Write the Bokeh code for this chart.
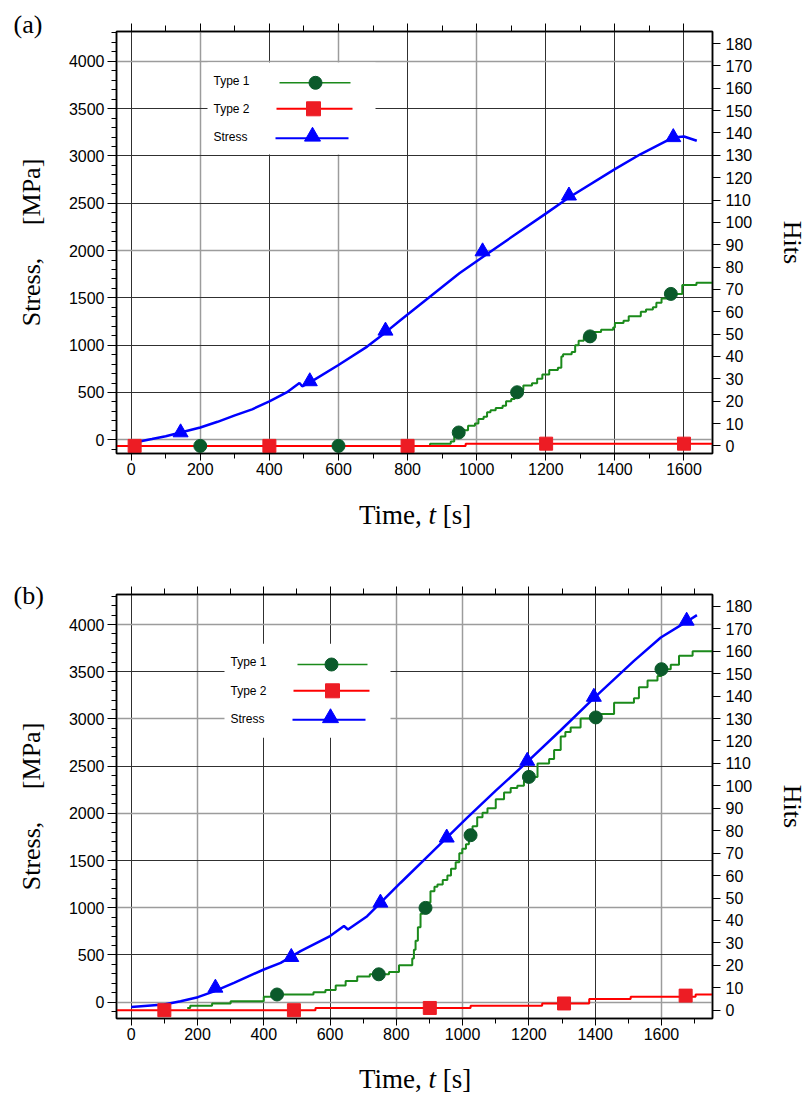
from bokeh.plotting import figure
from bokeh.models import (Range1d, LinearAxis, SingleIntervalTicker, FixedTicker,
                          Grid, Label, Title, CustomJSTickFormatter, Div)
from bokeh.layouts import column
from bokeh.embed import file_html
from bokeh.resources import INLINE

# ---------------- data: panel (a) ----------------
a_stress_t = [20, 60, 100, 143, 200, 250, 300, 350, 400, 450, 487, 495, 520, 600, 683, 736,
              780, 850, 900, 950, 1002, 1100, 1200, 1267, 1400, 1475, 1569, 1600, 1637]
a_stress_s = [-20, 8, 38, 77, 130, 190, 258, 322, 405, 500, 600, 565, 612, 790, 985, 1135,
              1265, 1470, 1615, 1760, 1893, 2140, 2390, 2560, 2860, 3020, 3195, 3205, 3160]
a_stress_mark_t = [143, 517, 736, 1017, 1267, 1569]
a_stress_mark_s = [77, 617, 1152, 1990, 2580, 3197]

a_type1_t = [-42, 865, 925, 935, 945, 960, 975, 995, 1005, 1020, 1030, 1040, 1055, 1075, 1085,
             1100, 1110, 1120, 1135, 1160, 1175, 1190, 1210, 1235, 1245, 1250, 1275, 1285, 1295,
             1310, 1335, 1360, 1395, 1400, 1425, 1440, 1475, 1490, 1510, 1520, 1535, 1555, 1595,
             1636, 1682]
a_type1_h = [0, 1, 2, 4, 6, 7, 9, 10, 12, 13, 15, 16, 17, 18, 20,
             21, 23, 25, 27, 28, 30, 32, 34, 35, 40, 41, 42, 45, 47,
             49, 51, 52, 53, 55, 56, 58, 60, 61, 62, 64, 66, 68, 72,
             73, 73]
a_type1_mark_t = [200, 600, 948, 1117, 1328, 1562]
a_type1_mark_h = [0, 0, 6, 24, 49, 68]

a_type2_t = [-42, 968, 1682]
a_type2_h = [0, 1, 1]
a_type2_mark_t = [10, 400, 800, 1201, 1600]
a_type2_mark_h = [0, 0, 0, 1, 1]

# ---------------- data: panel (b) ----------------
b_stress_t = [0, 99, 149, 201, 250, 310, 400, 451, 511, 600, 642, 654, 712, 813, 900, 1014,
              1100, 1195, 1296, 1396, 1517, 1598, 1676, 1707]
b_stress_s = [-50, -25, 10, 53, 115, 205, 346, 417, 540, 700, 806, 770, 911, 1265, 1563, 1954,
              2240, 2545, 2880, 3220, 3615, 3862, 4030, 4099]
b_stress_mark_t = [254, 483, 752, 952, 1195, 1396, 1676]
b_stress_mark_s = [152, 477, 1053, 1742, 2555, 3233, 4039]

b_type1_t = [169, 178, 244, 300, 400, 430, 550, 586, 617, 647, 682, 720, 778, 808, 848, 853,
             858, 865, 873, 880, 890, 903, 915, 924, 940, 954, 965, 979, 990, 999, 1010, 1019,
             1030, 1044, 1060, 1075, 1100, 1125, 1145, 1165, 1185, 1200, 1226, 1261, 1276, 1296,
             1310, 1326, 1356, 1415, 1457, 1517, 1532, 1558, 1588, 1600, 1628, 1653, 1694, 1754]
b_type1_h = [1, 2, 3, 4, 6, 7, 8, 9, 11, 13, 15, 16, 17, 20, 23, 27,
             31, 37, 43, 45, 48, 53, 55, 56, 58, 60, 63, 66, 70, 72, 74, 77,
             82, 86, 88, 90, 94, 97, 99, 100, 102, 104, 110, 112, 116, 122,
             124, 126, 130, 132, 137, 139, 144, 147, 149, 152, 154, 158, 160, 160]
b_type1_mark_t = [440, 747, 888, 1024, 1200, 1402, 1600]
b_type1_mark_h = [7, 16, 45.6, 78, 104, 130.5, 152]

b_type2_t = [-44, 556, 1024, 1240, 1382, 1507, 1703, 1754]
b_type2_h = [0, 1, 2, 3, 5, 6, 7, 7]
b_type2_mark_t = [100, 491, 901, 1306, 1673]
b_type2_mark_h = [0, 0, 1, 3, 6.5]

x_label_parts = ["Time,", "t", "[s]"]
y_label = "Stress,\u00a0\u00a0\u00a0\u00a0 [MPa]"
y2_label = "Hits"
legend_labels = ["Type 1", "Type 2", "Stress"]

# ---------------- style ----------------
SERIF = "Liberation Serif"
SANS = "Liberation Sans"
GREEN_LINE = "#1b8a1b"
GREEN_MARK = "#0b5a2b"
RED_LINE = "#ff0000"
RED_MARK = "#ed1c24"
BLUE = "#0000ff"
GRID_GRAY = "#9c9c9c"
GRID_DARK = "#303030"
FW = 596
LEFT = 116


def build(tag, tag_standoff, x_rng, y_rng, h_rng, fh, b_top, b_bot, gx_gray, gx_dark,
          gy_gray, gy_dark, leg, d):
    p = figure(frame_width=FW, frame_height=fh, title=None,
               x_range=Range1d(*x_rng), y_range=Range1d(*y_rng),
               output_backend="svg", toolbar_location=None,
               min_border_left=LEFT, min_border_right=60,
               min_border_top=b_top, min_border_bottom=b_bot,
               outline_line_color="black", outline_line_width=1.5,
               background_fill_color="white", border_fill_color="white")
    p.extra_y_ranges = {"hits": Range1d(*h_rng), "py": Range1d(fh, 0)}
    p.extra_x_ranges = {"px": Range1d(0, FW)}
    p.xgrid.grid_line_color = None
    p.ygrid.grid_line_color = None
    for dim, ticks, col, w in [(0, gx_gray, GRID_GRAY, 1.5), (0, gx_dark, GRID_DARK, 1),
                               (1, gy_gray, GRID_GRAY, 1.5), (1, gy_dark, GRID_DARK, 1)]:
        p.add_layout(Grid(dimension=dim, ticker=FixedTicker(ticks=ticks),
                          grid_line_color=col, grid_line_width=w))

    xa = p.xaxis[0]
    xa.ticker = SingleIntervalTicker(interval=200, num_minor_ticks=2)
    xa.major_tick_out, xa.major_tick_in = 7, 0
    xa.minor_tick_out, xa.minor_tick_in = 5, 0
    xa.major_label_text_font = SANS
    xa.major_label_text_font_size = "16px"
    xa.major_label_text_color = "black"
    xa.major_label_standoff = 2
    xa.axis_line_width = 1.5

    ya = p.yaxis[0]
    ya.ticker = SingleIntervalTicker(interval=500, num_minor_ticks=5)
    ya.major_tick_out, ya.major_tick_in = 9, 0
    ya.minor_tick_out, ya.minor_tick_in = 5, 0
    ya.major_label_text_font = SANS
    ya.major_label_text_font_size = "16px"
    ya.major_label_text_color = "black"
    ya.major_label_standoff = 3
    ya.axis_line_width = 1.5
    ya.axis_label = y_label
    ya.axis_label_text_font = SERIF
    ya.axis_label_text_font_size = "26px"
    ya.axis_label_text_font_style = "normal"
    ya.axis_label_text_color = "black"
    ya.axis_label_standoff = 20

    top = LinearAxis(ticker=SingleIntervalTicker(interval=200, num_minor_ticks=2),
                     formatter=CustomJSTickFormatter(code="return ''"),
                     major_tick_out=8, major_tick_in=0, minor_tick_out=6, minor_tick_in=0,
                     major_label_text_font_size="1px", major_label_standoff=0,
                     axis_line_width=1.5)
    p.add_layout(top, "above")

    right = LinearAxis(y_range_name="hits",
                       ticker=SingleIntervalTicker(interval=10, num_minor_ticks=0),
                       major_tick_out=8, major_tick_in=0, minor_tick_out=0, minor_tick_in=0,
                       minor_tick_line_color=None,
                       major_label_text_font=SANS, major_label_text_font_size="16px",
                       major_label_text_color="black", major_label_standoff=5,
                       axis_line_width=1.5,
                       axis_label=y2_label, axis_label_text_font=SERIF,
                       axis_label_text_font_size="26px", axis_label_text_font_style="normal",
                       axis_label_text_color="black", axis_label_standoff=23)
    p.add_layout(right, "right")

    # panel tag, placed as an outer title to the left of the frame
    p.add_layout(Title(text=tag, align="left", vertical_align="bottom", offset=13 - LEFT,
                       standoff=tag_standoff, text_font=SERIF, text_font_size="26px",
                       text_font_style="normal", text_color="black"), "above")

    # legend (text left, sample right) drawn in frame-pixel coordinates
    bx0, bx1, by0, by1 = leg["box"]
    p.quad(left=[bx0], right=[bx1], top=[by0], bottom=[by1], x_range_name="px",
           y_range_name="py", fill_color="white", line_color=None)
    samples = [(GREEN_LINE, 1.5, "circle", GREEN_MARK, 13),
               (RED_LINE, 2, "square", RED_MARK, 14),
               (BLUE, 2, "triangle", BLUE, 16)]
    for i, (lab, (lc, lw, mk, mc, ms)) in enumerate(zip(legend_labels, samples)):
        tx, ty = leg["text"][i]
        p.add_layout(Label(x=tx, y=ty, x_range_name="px", y_range_name="py", text=lab,
                           text_font=SANS, text_font_size="12px", text_color="black",
                           text_baseline="middle", text_align="left"))
        lx0, lx1, ly, mx, my = leg["sample"][i]
        p.line([lx0, lx1], [ly, ly], x_range_name="px", y_range_name="py",
               line_color=lc, line_width=lw)
        p.scatter([mx], [my], x_range_name="px", y_range_name="py", marker=mk,
                  size=ms, fill_color=mc, line_color=mc)

    # data
    p.step(d["t1"], d["h1"], mode="after", y_range_name="hits", line_color=GREEN_LINE,
           line_width=2)
    p.step(d["t2"], d["h2"], mode="after", y_range_name="hits", line_color=RED_LINE,
           line_width=2)
    p.line(d["st"], d["ss"], line_color=BLUE, line_width=2.5)
    p.scatter(d["t1m"], d["h1m"], y_range_name="hits", marker="circle", size=13,
              fill_color=GREEN_MARK, line_color=GREEN_MARK)
    p.scatter(d["t2m"], d["h2m"], y_range_name="hits", marker="square", size=13,
              fill_color=RED_MARK, line_color=RED_MARK)
    p.scatter(d["stm"], d["ssm"], marker="triangle", size=15, fill_color=BLUE,
              line_color=BLUE)
    return p


def xlabel_div(height, baseline):
    """HTML strip holding the x-axis title 'Time, t [s]' (italic t)."""
    fs = 27
    top = baseline - 22.6
    html = (f'<div style="position:relative; left:359px; top:{top:.1f}px; '
            f"font-family:'{SERIF}', serif; font-size:{fs}px; line-height:{fs}px; "
            f'white-space:nowrap; color:#000;">'
            f'{x_label_parts[0]} <i>{x_label_parts[1]}</i> {x_label_parts[2]}</div>')
    return Div(text=html, width=800, height=height, margin=(0, 0, 0, 0))


pa = build("(a)", -31.5, (-42.5, 1682.5), (-145, 4315), (-3.4, 185.4), 422, 31, 37,
           [200, 600, 1000], [0, 400, 800, 1200, 1400, 1600],
           [0, 2000, 4000], [500, 1000, 1500, 2500, 3000, 3500],
           {"box": (91, 259, 31, 123),
            "text": [(97, 49), (97, 77.3), (97, 105.7)],
            "sample": [(163, 234, 51.3, 199, 51.3), (160, 236, 77.3, 197, 77.3),
                       (159, 232, 106.7, 196, 105)]},
           {"t1": a_type1_t, "h1": a_type1_h, "t2": a_type2_t, "h2": a_type2_h,
            "st": a_stress_t, "ss": a_stress_s,
            "t1m": a_type1_mark_t, "h1m": a_type1_mark_h,
            "t2m": a_type2_mark_t, "h2m": a_type2_mark_h,
            "stm": a_stress_mark_t, "ssm": a_stress_mark_s})

pb = build("(b)", -47.5, (-44.4, 1754), (-173, 4318), (-3.7, 185.3), 424, 54, 36,
           [200, 800, 1000, 1600], [0, 400, 600, 1200, 1400],
           [0, 1000, 2000, 3000, 4000], [500, 1500, 2500, 3500],
           {"box": (108, 274, 49.3, 143.3),
            "text": [(114, 67.3), (114, 96.3), (114, 124)],
            "sample": [(181, 251, 70, 215, 70), (177, 253, 96.3, 216, 96.3),
                       (176, 249, 125.3, 214, 123.5)]},
           {"t1": b_type1_t, "h1": b_type1_h, "t2": b_type2_t, "h2": b_type2_h,
            "st": b_stress_t, "ss": b_stress_s,
            "t1m": b_type1_mark_t, "h1m": b_type1_mark_h,
            "t2m": b_type2_mark_t, "h2m": b_type2_mark_h,
            "stm": b_stress_mark_t, "ssm": b_stress_mark_s})

xa_strip = xlabel_div(50, 35)
xb_strip = xlabel_div(44, 35)

layout = column(pa, xa_strip, pb, xb_strip)
open("out.html", "w").write(file_html(layout, INLINE, "Stress and hits"))
